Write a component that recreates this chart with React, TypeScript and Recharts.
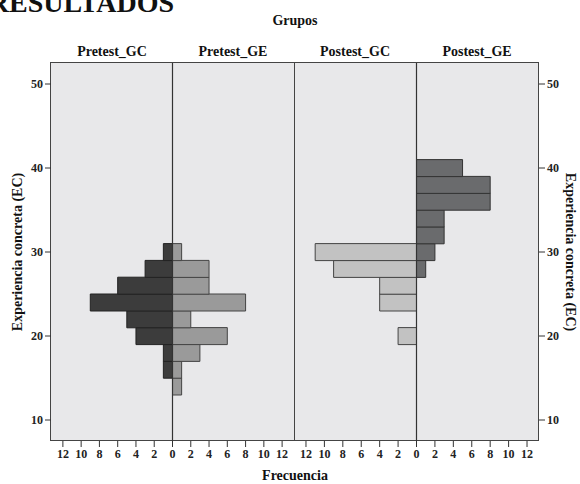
import React from 'react';
import { BarChart, Bar, XAxis, YAxis, ReferenceLine } from 'recharts';

// Histogram bins (midpoints of 2-unit bins: 13-15, 15-17, ... 39-41)
const bins = [14, 16, 18, 20, 22, 24, 26, 28, 30, 32, 34, 36, 38, 40];
const pretestGC = [0, 1, 1, 4, 5, 9, 6, 3, 1, 0, 0, 0, 0, 0];
const pretestGE = [1, 1, 3, 6, 2, 8, 4, 4, 1, 0, 0, 0, 0, 0];
const postestGC = [0, 0, 0, 2, 0, 4, 4, 9, 11, 0, 0, 0, 0, 0];
const postestGE = [0, 0, 0, 0, 0, 0, 0, 1, 2, 3, 3, 8, 8, 5];

const xTicks = [-12, -10, -8, -6, -4, -2, 0, 2, 4, 6, 8, 10, 12];
const yTicks = [10, 20, 30, 40, 50];
const groupLabels = ['Pretest_GC', 'Pretest_GE', 'Postest_GC', 'Postest_GE'];

const leftData = bins.map((b, i) => ({
  bin: b,
  left: pretestGC[i] ? -pretestGC[i] : null,
  right: pretestGE[i] ? pretestGE[i] : null,
}));
const rightData = bins.map((b, i) => ({
  bin: b,
  left: postestGC[i] ? -postestGC[i] : null,
  right: postestGE[i] ? postestGE[i] : null,
}));

const FONT = '"Liberation Serif", "DejaVu Serif", serif';
const tickStyle = { fontFamily: FONT, fontWeight: 700, fontSize: 12, fill: '#222' };
const X_DOMAIN: [number, number] = [-13.3, 13.3];
const Y_DOMAIN: [number, number] = [7.5, 52.5];

function Panel({ data, leftFill, leftStroke, rightFill, rightStroke, side }: any) {
  const width = side === 'left' ? 294 : 286;
  return (
    <BarChart
      width={width}
      height={484}
      data={data}
      layout="vertical"
      stackOffset="sign"
      barCategoryGap={0}
      barGap={0}
      margin={{ top: 63, right: 0, bottom: 23, left: 0 }}
    >
      <XAxis
        type="number"
        domain={X_DOMAIN}
        ticks={xTicks}
        allowDataOverflow
        interval={0}
        tickFormatter={(v: number) => String(Math.abs(v))}
        axisLine={false}
        tickLine={{ stroke: '#333' }}
        tickSize={6}
        tick={tickStyle}
        height={20}
      />
      <YAxis
        type="number"
        dataKey="bin"
        domain={Y_DOMAIN}
        ticks={yTicks}
        allowDataOverflow
        interval={0}
        reversed
        orientation={side === 'left' ? 'left' : 'right'}
        axisLine={false}
        tickLine={{ stroke: '#333' }}
        tickSize={6}
        tick={tickStyle}
        width={side === 'left' ? 51 : 41}
      />
      <Bar dataKey="left" stackId="s" fill={leftFill} stroke={leftStroke} strokeWidth={1} isAnimationActive={false} />
      <Bar dataKey="right" stackId="s" fill={rightFill} stroke={rightStroke} strokeWidth={1} isAnimationActive={false} />
      <ReferenceLine x={0} stroke="#333" strokeWidth={1.2} />
    </BarChart>
  );
}

export default function App() {
  return (
    <div style={{ position: 'absolute', left: 0, top: 0, width: 580, height: 484, background: '#fff', overflow: 'hidden' }}>
      <div
        style={{
          position: 'absolute',
          left: 50,
          top: 62,
          width: 489,
          height: 379,
          boxSizing: 'border-box',
          border: '1.5px solid #444',
          background: '#e8e8ea',
        }}
      />
      <div style={{ position: 'absolute', left: 293.5, top: 62, width: 1.5, height: 379, background: '#444' }} />
      <svg width={580} height={484} style={{ position: 'absolute', left: 0, top: 0 }}>
        <g fontFamily={FONT} fontWeight={700} fill="#111">
          <text x={174} y={12} fontSize={28} textAnchor="end">RESULTADOS</text>
          <text x={295} y={25} fontSize={14} textAnchor="middle">Grupos</text>
          <text x={112} y={56} fontSize={14} textAnchor="middle">{groupLabels[0]}</text>
          <text x={233} y={56} fontSize={14} textAnchor="middle">{groupLabels[1]}</text>
          <text x={355} y={56} fontSize={14} textAnchor="middle">{groupLabels[2]}</text>
          <text x={477} y={56} fontSize={14} textAnchor="middle">{groupLabels[3]}</text>
          <text x={295} y={480} fontSize={14} textAnchor="middle">Frecuencia</text>
          <text x={22} y={252} fontSize={14} textAnchor="middle" transform="rotate(-90 22 252)">Experiencia concreta (EC)</text>
          <text x={566} y={252} fontSize={14} textAnchor="middle" transform="rotate(90 566 252)">Experiencia concreta (EC)</text>
        </g>
      </svg>
      <div style={{ position: 'absolute', left: 0, top: 0 }}>
        <Panel data={leftData} side="left" leftFill="#3c3c3c" leftStroke="#222" rightFill="#9a9a9a" rightStroke="#444" />
      </div>
      <div style={{ position: 'absolute', left: 294, top: 0 }}>
        <Panel data={rightData} side="right" leftFill="#c2c2c2" leftStroke="#444" rightFill="#6a6b6d" rightStroke="#333" />
      </div>
    </div>
  );
}
